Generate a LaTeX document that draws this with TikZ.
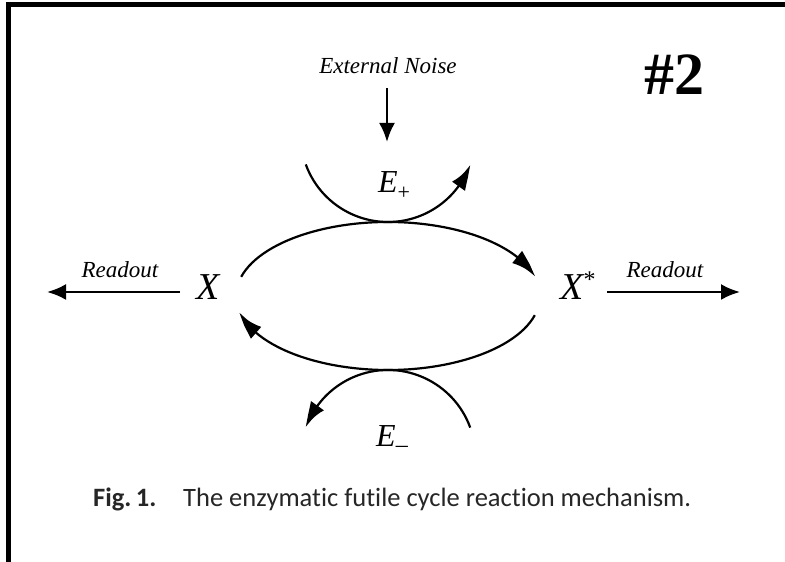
\documentclass[tikz,border=0pt]{standalone}
\usepackage{fontspec}
\setmainfont{Liberation Serif}
\newfontfamily\capfont[Ligatures=NoCommon]{Carlito}
\usetikzlibrary{arrows.meta,bending}
\begin{document}
\begin{tikzpicture}[x=1pt,y=1pt,
  lbl/.style={font=\fontsize{23}{27}\selectfont\itshape, inner sep=0pt},
  bigx/.style={font=\fontsize{38}{44}\selectfont\itshape, inner sep=0pt},
  enz/.style={font=\fontsize{32}{38}\selectfont\itshape, inner sep=0pt},
  tip/.style={line width=2.6pt,-{Latex[length=19pt,width=16pt]}},
  ctip/.style={line width=2.2pt,-{Latex[length=25pt,width=16pt,bend]}},
  captxt/.style={font=\capfont\fontsize{26.5}{30}\selectfont, text=black!85, inner sep=0pt},
]
\useasboundingbox (0,0) rectangle (785,562);
\fill[white] (0,0) rectangle (785,562);
\draw[line width=5pt] (8.5,0) -- (8.5,557.5) -- (785,557.5);

% labels
\node[lbl, anchor=base] (noise) at (388,488) {External Noise};
\node[enz, anchor=base] (ep) at (394,369) {E\raisebox{-7pt}{\fontsize{22}{22}\selectfont\upshape +}};
\node[enz, anchor=base] (em) at (392,115) {E\raisebox{-6pt}{\fontsize{24}{24}\selectfont\upshape --}};
\node[bigx, anchor=base] (x) at (208,262) {X};
\node[bigx, anchor=base] (xs) at (578,262) {X\raisebox{12pt}{\fontsize{24}{24}\selectfont\upshape *}};
\node[lbl, anchor=base] (rl) at (120,284) {Readout};
\node[lbl, anchor=base] (rr) at (665,284) {Readout};
\node[font=\bfseries\fontsize{60}{70}\selectfont, anchor=base, inner sep=0pt] (num) at (674,467) {\#2};
\node[captxt, font=\capfont\bfseries\fontsize{26.5}{30}\selectfont, anchor=base west] (fig) at (93,55) {Fig.\,1.};
\node[captxt, anchor=base west] (cap) at (183,55) {The enzymatic futile cycle reaction mechanism.};

% noise arrow
\coordinate (n1) at (387,474);
\coordinate (n2) at (387,420);
\draw[tip] (n1) -- (n2);

% readout arrows
\coordinate (l1) at (180,270);
\coordinate (l2) at (47,270);
\coordinate (r1) at (607,270);
\coordinate (r2) at (740,270);
\draw[tip] (l1) -- (l2);
\draw[tip] (r1) -- (r2);

% cycle
\coordinate (C) at (388,266);
\draw[ctip] ([shift={(165:152 and 74)}]C) arc[start angle=165, end angle=15, x radius=152, y radius=74];
\draw[ctip] ([shift={(-15:152 and 74)}]C) arc[start angle=-15, end angle=-167.5, x radius=152, y radius=74];

% enzyme arcs
\coordinate (U) at (388,427.5);
\coordinate (D) at (388,104.5);
\draw[ctip] ([shift={(200:87.5)}]U) arc[start angle=200, end angle=340, radius=87.5];
\draw[ctip] ([shift={(20:87.5)}]D) arc[start angle=20, end angle=160, radius=87.5];
\end{tikzpicture}
\end{document}
